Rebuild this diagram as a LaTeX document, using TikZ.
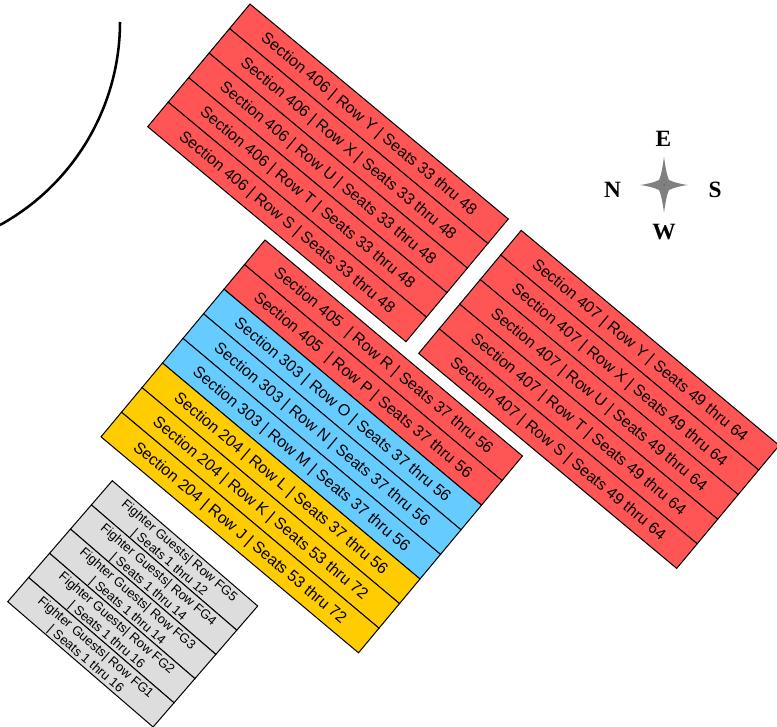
\documentclass[tikz,border=0pt]{standalone}
\usepackage{fontspec}
\setmainfont{Liberation Sans}
\newfontfamily\compassfont{Liberation Serif}
\definecolor{redseat}{HTML}{FF5555}
\definecolor{blueseat}{HTML}{66CCFF}
\definecolor{yellowseat}{HTML}{FFCC00}
\definecolor{greyseat}{HTML}{DDDDDD}
\tikzset{
  x=0.75pt,y=-0.75pt,
  band/.style={draw=black,line width=0.75pt,line join=miter},
  bandtext/.style={font=\fontsize{12}{14}\selectfont,inner sep=0pt,text=black},
  guesttext/.style={font=\fontsize{9.8}{11.6}\selectfont,inner sep=0pt,align=center,text=black},
  compasstext/.style={font=\compassfont\bfseries\fontsize{17.5}{19}\selectfont,inner sep=0pt,text=black},
}
\newcommand{\setblock}[8]{\def\Ox{#1}\def\Oy{#2}\def\Lx{#3}\def\Ly{#4}\def\Sx{#5}\def\Sy{#6}\def\Tdx{#7}\def\Tdy{#8}%
  \pgfmathsetmacro{\Ang}{atan2(\Ly,\Lx)}}
\newcommand{\seatrow}[4]{%
  \pgfmathsetmacro{\Ax}{\Ox+#1*\Sx}\pgfmathsetmacro{\Ay}{\Oy+#1*\Sy}%
  \pgfmathsetmacro{\Cx}{\Ax+0.5*\Sx+0.5*\Lx+\Tdx}\pgfmathsetmacro{\Cy}{\Ay+0.5*\Sy+0.5*\Ly+\Tdy}%
  \path[band,fill=#2] (\Ax,\Ay) -- ++(\Lx,\Ly) -- ++(\Sx,\Sy) -- ++(-\Lx,-\Ly) -- cycle;
  \node[#3,rotate=-\Ang] at (\Cx,\Cy) {#4};
}
\begin{document}
\begin{tikzpicture}
\useasboundingbox (0,0) rectangle (777,727);
\clip (0,0) rectangle (777,727);

% arena arc
\draw[line width=1.9pt] (120,22) arc[start angle=0,end angle=61.2,radius=231.7];

% Section 406
\setblock{250}{4}{258.3}{215}{-20.46}{24.54}{-0.5}{1}
\foreach \i/\t in {0/Y,1/X,2/U,3/T,4/S}{
  \seatrow{\i}{redseat}{bandtext}{Section 406 | Row \t\ | Seats 33 thru 48}
}
% Section 407
\setblock{521.2}{230.4}{258}{215}{-20.5}{24.6}{-0.5}{1}
\foreach \i/\t in {0/Y,1/X,2/U,3/T,4/S}{
  \seatrow{\i}{redseat}{bandtext}{Section 407 | Row \t\ | Seats 49 thru 64}
}
% Middle block
\setblock{265}{240}{257.5}{216}{-20.5}{24.6}{-0.5}{1}
\seatrow{0}{redseat}{bandtext}{Section 405\ \ | Row R | Seats 37 thru 56}
\seatrow{1}{redseat}{bandtext}{Section 405\ \ | Row P | Seats 37 thru 56}
\seatrow{2}{blueseat}{bandtext}{Section 303 | Row O | Seats 37 thru 56}
\seatrow{3}{blueseat}{bandtext}{Section 303 | Row N | Seats 37 thru 56}
\seatrow{4}{blueseat}{bandtext}{Section 303 | Row M | Seats 37 thru 56}
\seatrow{5}{yellowseat}{bandtext}{Section 204 | Row L | Seats 37 thru 56}
\seatrow{6}{yellowseat}{bandtext}{Section 204 | Row K | Seats 53 thru 72}
\seatrow{7}{yellowseat}{bandtext}{Section 204 | Row J | Seats 53 thru 72}
% Fighter guests
\setblock{112.3}{480.7}{145.4}{125.3}{-20.92}{24.2}{-0.5}{1.5}
\seatrow{0}{greyseat}{guesttext}{Fighter Guests| Row FG5\\| Seats 1 thru 12}
\seatrow{1}{greyseat}{guesttext}{Fighter Guests| Row FG4\\| Seats 1 thru 14}
\seatrow{2}{greyseat}{guesttext}{Fighter Guests| Row FG3\\| Seats 1 thru 14}
\seatrow{3}{greyseat}{guesttext}{Fighter Guests| Row FG2\\| Seats 1 thru 16}
\seatrow{4}{greyseat}{guesttext}{Fighter Guests| Row FG1\\| Seats 1 thru 16}

% Compass
\fill[gray] (664,156.7) .. controls (665.5,168) and (667,176) .. (669,180)
  .. controls (673,182) and (680,184) .. (687.7,185)
  .. controls (680,186) and (673,188) .. (669,190)
  .. controls (667,194) and (665.5,202) .. (664,212.7)
  .. controls (662.5,202) and (661,194) .. (659,190)
  .. controls (655,188) and (648,186) .. (640,185)
  .. controls (648,184) and (655,182) .. (659,180)
  .. controls (661,176) and (662.5,168) .. cycle;
\fill[black!60] (664,185) circle[radius=1];
\node[compasstext] (compE) at (663.5,138.5) {E};
\node[compasstext] (compN) at (612.5,190) {N};
\node[compasstext] (compS) at (715,190) {S};
\node[compasstext] (compW) at (664,232) {W};
\end{tikzpicture}
\end{document}
